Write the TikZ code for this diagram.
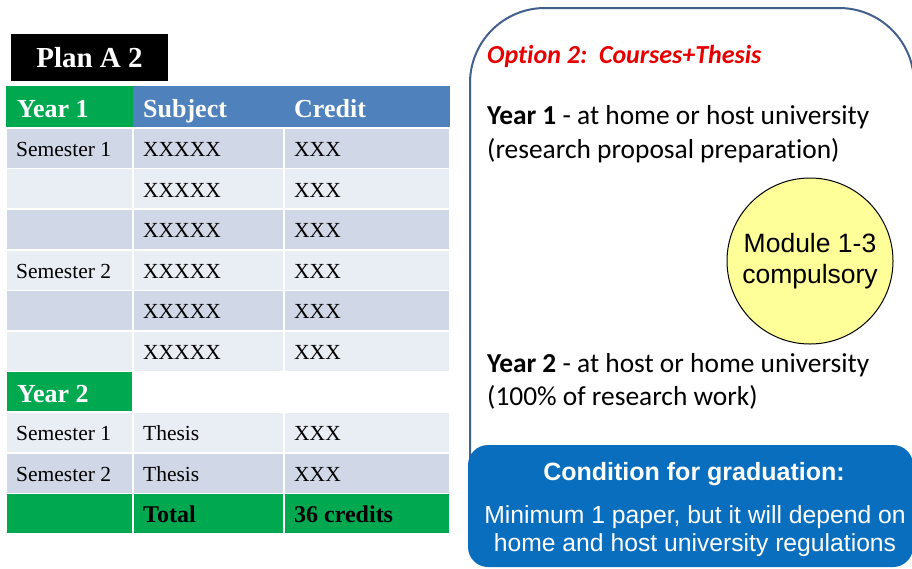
\documentclass[tikz,border=0pt]{standalone}
\usepackage{fontspec}
\setmainfont{Liberation Serif}
\newfontfamily\calfont[Ligatures=NoCommon]{Carlito}
\newfontfamily\arfont{Liberation Sans}
\usetikzlibrary{positioning}
\definecolor{tabgreen}{RGB}{0,168,80}
\definecolor{tabblue}{RGB}{79,129,189}
\definecolor{rowdark}{RGB}{208,216,232}
\definecolor{rowlight}{RGB}{233,237,244}
\definecolor{panelline}{RGB}{65,96,140}
\definecolor{condblue}{RGB}{10,110,190}
\definecolor{modyellow}{RGB}{255,255,153}
\definecolor{optred}{RGB}{230,0,0}
\tikzset{
  cell/.style={draw=white, line width=1.5pt},
  celltext/.style={anchor=base west, inner sep=0pt, font=\fontsize{21.5}{24}\selectfont},
  headtext/.style={anchor=base west, inner sep=0pt, text=white, font=\fontsize{26}{30}\selectfont\bfseries},
  totaltext/.style={anchor=base west, inner sep=0pt, font=\fontsize{24}{28}\selectfont\bfseries},
  paneltext/.style={anchor=base west, inner sep=0pt, font=\calfont\fontsize{27.4}{32}\selectfont},
  condtext/.style={anchor=base, inner sep=0pt, text=white, font=\arfont\fontsize{24.7}{28}\selectfont},
}
\begin{document}
\begin{tikzpicture}[x=1pt,y=-1pt]
  \useasboundingbox (0,0) rectangle (912,568);
  % plan title
  \node[fill=black, text=white, minimum width=157pt, minimum height=47pt, inner sep=0pt,
        font=\fontsize{29}{32}\selectfont\bfseries] (plan) at (89.5,57.5) {Plan A 2};
  % table header
  \fill[tabgreen] (6,86) rectangle (133,128);
  \fill[tabblue] (133,86) rectangle (450,128);
  \node[headtext] (hyear1) at (17,117) {Year 1};
  \node[headtext] (hsubj) at (143,117) {Subject};
  \node[headtext] (hcred) at (294,117) {Credit};
  % table rows
  \foreach \i/\shade/\sem/\subj/\cred in {1/rowdark/Semester 1/XXXXX/XXX,
      2/rowlight//XXXXX/XXX, 3/rowdark//XXXXX/XXX, 4/rowlight/Semester 2/XXXXX/XXX,
      5/rowdark//XXXXX/XXX, 6/rowlight//XXXXX/XXX,
      8/rowlight/Semester 1/Thesis/XXX, 9/rowdark/Semester 2/Thesis/XXX}{
    \pgfmathsetmacro\rtop{128+40.6*(\i-1)}
    \pgfmathsetmacro\rbot{\rtop+40.6}
    \filldraw[cell, fill=\shade] (6,\rtop) rectangle (133,\rbot);
    \filldraw[cell, fill=\shade] (133,\rtop) rectangle (284,\rbot);
    \filldraw[cell, fill=\shade] (284,\rtop) rectangle (450,\rbot);
    \node[celltext] (sem\i) at (16,\rtop+28.5) {\sem};
    \node[celltext] (subj\i) at (143,\rtop+28.5) {\subj};
    \node[celltext] (cred\i) at (294,\rtop+28.5) {\cred};
  }
  % year 2 and total
  \filldraw[cell, fill=tabgreen] (6,371.6) rectangle (133,412.2);
  \node[headtext] (hyear2) at (17,402) {Year 2};
  \filldraw[cell, fill=tabgreen] (6,493.4) rectangle (133,534);
  \filldraw[cell, fill=tabgreen] (133,493.4) rectangle (284,534);
  \filldraw[cell, fill=tabgreen] (284,493.4) rectangle (450,534);
  \node[totaltext] (total) at (143,522) {Total};
  \node[totaltext] (credits) at (294,522) {36 credits};

  % option panel
  \begin{scope}
    \clip (0,0) rectangle (912,568);
    \draw[panelline, line width=2pt, rounded corners=75pt] (470,470) |- (914,8) -- (914,470);
    \fill[condblue, rounded corners=20pt] (468,445) rectangle (913,567);
  \end{scope}
  \node[anchor=base west, inner sep=0pt, text=optred,
        font=\calfont\fontsize{26}{30}\selectfont\bfseries\itshape] (option) at (487,63)
        {Option 2:\ \ Courses+Thesis};
  \node[paneltext] (y1a) at (487,124) {\textbf{Year 1} - at home or host university};
  \node[paneltext] (y1b) at (487,158) {(research proposal preparation)};
  \node[paneltext] (y2a) at (487,372) {\textbf{Year 2} - at host or home university};
  \node[paneltext] (y2b) at (487,405) {(100\% of research work)};
  \node[circle, draw=black, line width=1pt, fill=modyellow, minimum size=166pt, inner sep=0pt,
        align=center, font=\arfont\fontsize{26.5}{31}\selectfont] (module) at (810,261)
        {Module 1-3\\compulsory};
  \node[condtext, font=\arfont\fontsize{25}{28}\selectfont\bfseries] (cond) at (694,480)
        {Condition for graduation:};
  \node[condtext] (cond1) at (695,523) {Minimum 1 paper, but it will depend on};
  \node[condtext] (cond2) at (695,551) {home and host university regulations};
\end{tikzpicture}
\end{document}
